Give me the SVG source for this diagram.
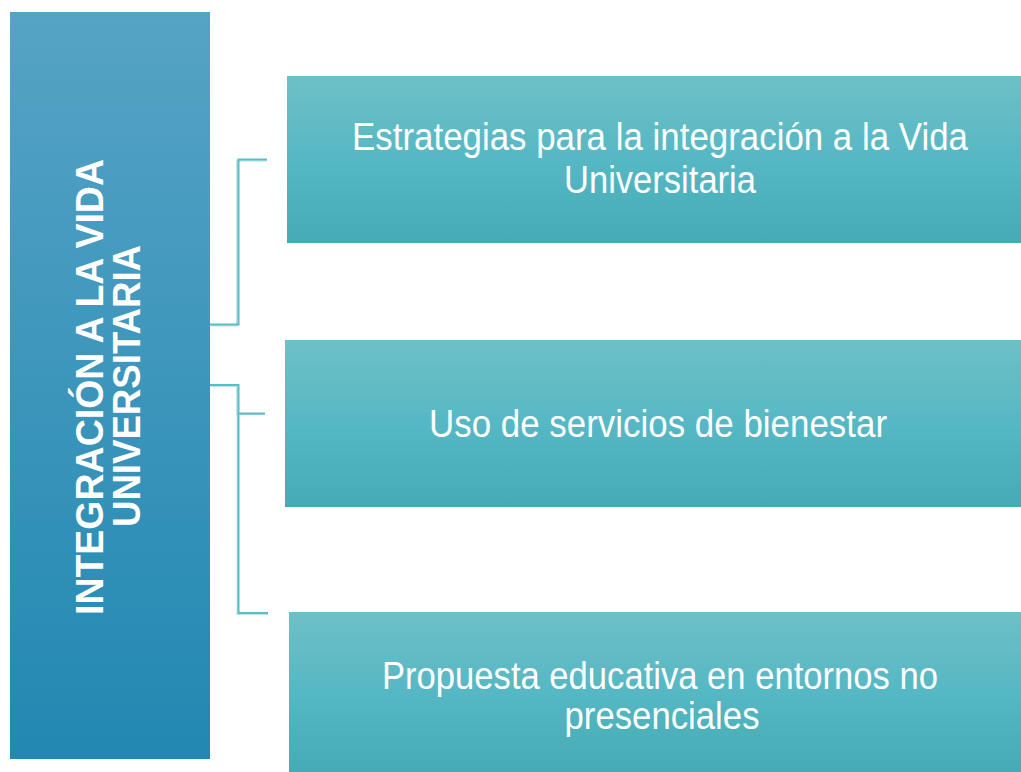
<svg xmlns="http://www.w3.org/2000/svg" width="1021" height="772" viewBox="0 0 1021 772">
<defs>
<linearGradient id="gMain" x1="0" y1="0" x2="0" y2="1">
<stop offset="0" stop-color="#56A3C5"/>
<stop offset="1" stop-color="#2288B2"/>
</linearGradient>
<linearGradient id="gBox" x1="0" y1="0" x2="0" y2="1">
<stop offset="0" stop-color="#6FBFC7"/>
<stop offset="0.5" stop-color="#55B8C4"/>
<stop offset="1" stop-color="#46ABB5"/>
</linearGradient>
<style>
.box{fill:url(#gBox);}
.lbl{font-family:"Liberation Sans",Arial,sans-serif;font-size:39px;fill:#FFFFFF;text-anchor:middle;}
.main{font-family:"Liberation Sans",Arial,sans-serif;font-size:38px;font-weight:bold;fill:#FFFFFF;text-anchor:middle;}
.con{fill:none;stroke:#5BBCC7;stroke-width:2;}
.conS{fill:none;stroke:#BFE3E7;stroke-width:2;}
</style>
</defs>
<rect width="1021" height="772" fill="#FFFFFF"/>
<g id="connectors">
<path class="conS" d="M211,325.5 H237 V160.5 H267"/>
<path class="con" d="M210,324.5 H238.5 V159.5 H267"/>
<path class="conS" d="M211,386 H237 V414 H265"/>
<path class="con" d="M210,385 H238.5 V413.5 H265"/>
<path class="conS" d="M237.5,414 V614 H268"/>
<path class="con" d="M238.5,413.5 V613 H268"/>
</g>
<g id="node-main">
<rect x="10" y="12" width="200" height="747" fill="url(#gMain)"/>
<text class="main" transform="translate(103,387) rotate(-90)" textLength="456" lengthAdjust="spacingAndGlyphs">INTEGRACIÓN A LA VIDA</text>
<text class="main" transform="translate(140,386) rotate(-90)" textLength="282" lengthAdjust="spacingAndGlyphs">UNIVERSITARIA</text>
</g>
<g id="node-1">
<rect class="box" x="287" y="76" width="734" height="167"/>
<text class="lbl" transform="translate(660,150) scale(0.78,1)" textLength="789.7" lengthAdjust="spacingAndGlyphs">Estrategias para la integración a la Vida</text>
<text class="lbl" transform="translate(660,193) scale(0.78,1)" textLength="246.2" lengthAdjust="spacingAndGlyphs">Universitaria</text>
</g>
<g id="node-2">
<rect class="box" x="285" y="340" width="736" height="167"/>
<text class="lbl" transform="translate(658,437) scale(0.78,1)" textLength="587.2" lengthAdjust="spacingAndGlyphs">Uso de servicios de bienestar</text>
</g>
<g id="node-3">
<rect class="box" x="289" y="612" width="732" height="160"/>
<text class="lbl" transform="translate(660,689) scale(0.78,1)" textLength="712.8" lengthAdjust="spacingAndGlyphs">Propuesta educativa en entornos no</text>
<text class="lbl" transform="translate(662,729) scale(0.78,1)" textLength="250" lengthAdjust="spacingAndGlyphs">presenciales</text>
</g>
</svg>
